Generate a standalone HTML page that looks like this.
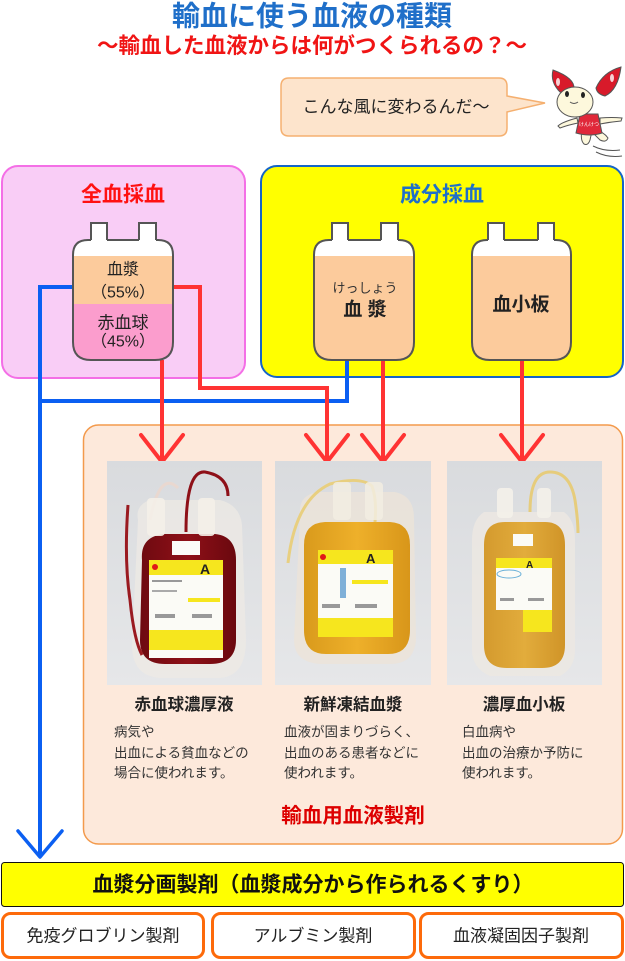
<!DOCTYPE html>
<html><head><meta charset="utf-8">
<style>
html,body{margin:0;padding:0;background:#fff;}
svg{display:block;}
text{font-family:"Liberation Sans","Noto Sans CJK JP",sans-serif;}
</style></head>
<body>
<svg width="625" height="961" viewBox="0 0 625 961" xmlns="http://www.w3.org/2000/svg">
<defs>
  <linearGradient id="pg" x1="0" y1="0" x2="0" y2="1">
    <stop offset="0" stop-color="#d9dbde"/><stop offset="1" stop-color="#e6e7e9"/>
  </linearGradient>
  <linearGradient id="rb" x1="0" y1="0" x2="1" y2="0">
    <stop offset="0" stop-color="#6e0a10"/><stop offset="0.5" stop-color="#8e1018"/><stop offset="1" stop-color="#6a080e"/>
  </linearGradient>
  <linearGradient id="yb" x1="0" y1="0" x2="1" y2="0">
    <stop offset="0" stop-color="#d99a1c"/><stop offset="0.5" stop-color="#eeb02a"/><stop offset="1" stop-color="#d8961a"/>
  </linearGradient>
  <linearGradient id="ab" x1="0" y1="0" x2="1" y2="0">
    <stop offset="0" stop-color="#d49a2e"/><stop offset="0.5" stop-color="#e2ac3c"/><stop offset="1" stop-color="#d09428"/>
  </linearGradient>
  <clipPath id="c1"><path d="M73,255 Q73,240 88,240 H158 Q173,240 173,255 V342 Q173,360 155,360 H91 Q73,360 73,342 Z"/></clipPath>
  <clipPath id="c2"><path d="M314,255 Q314,240 329,240 H399 Q414,240 414,255 V342 Q414,360 396,360 H332 Q314,360 314,342 Z"/></clipPath>
  <clipPath id="c3"><path d="M472,255 Q472,240 487,240 H556 Q571,240 571,255 V342 Q571,360 553,360 H490 Q472,360 472,342 Z"/></clipPath>
</defs>

<!-- Title -->
<text x="312" y="16" text-anchor="middle" dominant-baseline="central" font-size="28" font-weight="bold" fill="#1f6fc9">輸血に使う血液の種類</text>
<text x="312" y="46" text-anchor="middle" dominant-baseline="central" font-size="21.5" font-weight="bold" fill="#f01414">～輸血した血液からは何がつくられるの？～</text>

<!-- Speech bubble -->
<path d="M289,78 H499 Q507,78 507,86 V96 L545,103 L507,112 V128 Q507,136 499,136 H289 Q281,136 281,128 V86 Q281,78 289,78 Z" fill="#fde4cc" stroke="#f5b070" stroke-width="1.5"/>
<text x="396" y="107" text-anchor="middle" dominant-baseline="central" font-size="17" fill="#222">こんな風に変わるんだ～</text>

<!-- Mascot -->
<g>
  <path d="M593,146 Q605,152 620,150" stroke="#555" stroke-width="1" fill="none"/>
  <path d="M596,152 Q608,158 622,156" stroke="#555" stroke-width="1" fill="none"/>
  <path d="M577,118 Q562,122 558,126 L560,128 Q568,125 578,123 Z" fill="#fdf8dc" stroke="#555" stroke-width="1"/>
  <path d="M600,118 Q612,117 622,118 L621,121 Q610,122 600,124 Z" fill="#fdf8dc" stroke="#555" stroke-width="1"/>
  <path d="M582,130 Q580,140 584,144 Q588,146 590,140 L592,131 Z" fill="#fdf8dc" stroke="#555" stroke-width="1"/>
  <path d="M595,130 Q604,132 608,138 Q606,143 600,140 L594,134 Z" fill="#fdf8dc" stroke="#555" stroke-width="1"/>
  <path d="M580,114 H598 L602,133 Q590,137 576,133 Z" fill="#e0283a" stroke="#555" stroke-width="1"/>
  <text x="589" y="126" text-anchor="middle" font-size="5" fill="#fff">けんけつ</text>
  <path d="M553,70 Q575,78 574,89 Q566,94 560,92 Q550,82 553,70 Z" fill="#d81a2a" stroke="#555" stroke-width="1"/>
  <path d="M621,67 Q618,90 605,96 Q597,94 596,88 Q603,72 621,67 Z" fill="#d81a2a" stroke="#555" stroke-width="1"/>
  <ellipse cx="575" cy="102" rx="18" ry="15" fill="#fdf8dc" stroke="#555" stroke-width="1"/>
  <ellipse cx="567" cy="94" rx="2" ry="3" fill="#222"/>
  <ellipse cx="583" cy="95" rx="2" ry="3" fill="#222"/>
  <path d="M570,102 Q574,105 578,102" stroke="#555" stroke-width="1" fill="none"/>
  <ellipse cx="558" cy="82" rx="2" ry="4" fill="#fff" opacity="0.8"/>
  <ellipse cx="612" cy="78" rx="2" ry="4" fill="#fff" opacity="0.8"/>
</g>

<!-- Whole blood box -->
<rect x="2" y="166" width="243" height="212" rx="16" fill="#f9cdf6" stroke="#f46fe6" stroke-width="2"/>
<text x="123" y="195" text-anchor="middle" dominant-baseline="central" font-size="21" font-weight="bold" fill="#ff1111">全血採血</text>

<!-- Component box -->
<rect x="261" y="166" width="362" height="211" rx="16" fill="#ffff00" stroke="#1565c8" stroke-width="2"/>
<text x="442" y="195" text-anchor="middle" dominant-baseline="central" font-size="21" font-weight="bold" fill="#1f6fc9">成分採血</text>

<!-- Connector lines (drawn before bags) -->
<g fill="none" stroke-width="4" stroke-linejoin="miter">
  <path d="M73,287 H40 V856" stroke="#0b5ff2"/>
  <path d="M40,401 H347 V360" stroke="#0b5ff2"/>
  <path d="M173,287 H200 V388 H327 V462" stroke="#ff3333"/>
  <path d="M162,360 V462" stroke="#ff3333"/>
  <path d="M383,360 V462" stroke="#ff3333"/>
  <path d="M522,360 V462" stroke="#ff3333"/>
</g>

<!-- Bag 1 -->
<g>
  <path d="M91,241 V223 H107 V241 M139,241 V223 H156 V241" fill="#fff" stroke="#555" stroke-width="2"/>
  <rect x="92" y="224" width="14" height="18" fill="#fff"/>
  <rect x="140" y="224" width="15" height="18" fill="#fff"/>
  <g clip-path="url(#c1)">
    <rect x="70" y="238" width="110" height="18" fill="#fff"/>
    <rect x="70" y="256" width="110" height="48" fill="#fccb9c"/>
    <rect x="70" y="304" width="110" height="60" fill="#fb9dcd"/>
  </g>
  <path d="M107,240 H139 M156,240 H158 Q173,240 173,255 V342 Q173,360 155,360 H91 Q73,360 73,342 V255 Q73,240 88,240 H91" fill="none" stroke="#555" stroke-width="2"/>
  <text x="123" y="270" text-anchor="middle" dominant-baseline="central" font-size="16" fill="#222">血漿</text>
  <text x="123" y="293" text-anchor="middle" dominant-baseline="central" font-size="16" fill="#222">（55%）</text>
  <text x="123" y="323" text-anchor="middle" dominant-baseline="central" font-size="17" fill="#222">赤血球</text>
  <text x="123" y="342" text-anchor="middle" dominant-baseline="central" font-size="16" fill="#222">（45%）</text>
</g>

<!-- Bag 2 -->
<g>
  <path d="M332,241 V223 H348 V241 M381,241 V223 H398 V241" fill="#fff" stroke="#555" stroke-width="2"/>
  <rect x="333" y="224" width="14" height="18" fill="#fff"/>
  <rect x="382" y="224" width="15" height="18" fill="#fff"/>
  <g clip-path="url(#c2)">
    <rect x="310" y="238" width="110" height="18" fill="#fff"/>
    <rect x="310" y="256" width="110" height="110" fill="#fccb9c"/>
  </g>
  <path d="M348,240 H381 M398,240 H399 Q414,240 414,255 V342 Q414,360 396,360 H332 Q314,360 314,342 V255 Q314,240 329,240 H332" fill="none" stroke="#555" stroke-width="2"/>
  <text x="365" y="288" text-anchor="middle" dominant-baseline="central" font-size="13" fill="#333">けっしょう</text>
  <text x="365" y="310" text-anchor="middle" dominant-baseline="central" font-size="19" font-weight="bold" fill="#222">血 漿</text>
</g>

<!-- Bag 3 -->
<g>
  <path d="M488,241 V223 H504 V241 M538,241 V223 H554 V241" fill="#fff" stroke="#555" stroke-width="2"/>
  <rect x="489" y="224" width="14" height="18" fill="#fff"/>
  <rect x="539" y="224" width="14" height="18" fill="#fff"/>
  <g clip-path="url(#c3)">
    <rect x="468" y="238" width="110" height="18" fill="#fff"/>
    <rect x="468" y="256" width="110" height="110" fill="#fccb9c"/>
  </g>
  <path d="M504,240 H538 M554,240 H556 Q571,240 571,255 V342 Q571,360 553,360 H490 Q472,360 472,342 V255 Q472,240 487,240 H488" fill="none" stroke="#555" stroke-width="2"/>
  <text x="521" y="305" text-anchor="middle" dominant-baseline="central" font-size="19" font-weight="bold" fill="#222">血小板</text>
</g>

<!-- Orange product box -->
<rect x="83.5" y="425" width="539" height="419" rx="15" fill="#fde9db" stroke="#f39a4c" stroke-width="1.5"/>

<!-- red lines over box top -->
<g fill="none" stroke="#ff3333" stroke-width="4">
  <path d="M162,420 V462 M327,420 V462 M383,420 V462 M522,420 V462"/>
  <path d="M141,435 L162,462 L183,435 M306,435 L327,462 L348,435 M362,435 L383,462 L404,435 M501,435 L522,462 L543,435" stroke-linecap="round" stroke-linejoin="round"/>
</g>

<!-- Photo 1 -->
<g>
  <rect x="107" y="461" width="155" height="224" fill="url(#pg)"/>
  <path d="M138,520 Q135,505 150,500 H220 Q240,505 242,525 L246,640 Q246,676 220,678 H160 Q132,676 132,645 Z" fill="#eee9e4" opacity="0.75"/>
  <path d="M142,560 Q140,536 165,534 H215 Q236,536 236,560 V640 Q236,664 210,664 H165 Q140,664 140,640 Z" fill="url(#rb)"/>
  <path d="M186,532 Q186,470 205,472 Q228,476 228,496" fill="none" stroke="#8e1018" stroke-width="3"/>
  <path d="M128,505 Q124,560 130,600 Q134,640 142,655" fill="none" stroke="#9a1a20" stroke-width="3"/>
  <path d="M150,520 Q160,470 178,488" fill="none" stroke="#e9d8d0" stroke-width="3"/>
  <rect x="147" y="498" width="18" height="38" rx="4" fill="#f4efe8" opacity="0.9"/>
  <rect x="198" y="498" width="17" height="38" rx="4" fill="#f4efe8" opacity="0.9"/>
  <rect x="172" y="541" width="28" height="14" fill="#fbfbf8"/>
  <rect x="149" y="560" width="74" height="98" fill="#fbfbf6"/>
  <rect x="149" y="560" width="74" height="15" fill="#f6e61e"/>
  <rect x="149" y="630" width="74" height="20" fill="#f6e61e"/>
  <text x="200" y="574" font-size="14" font-weight="bold" fill="#222">A</text>
  <circle cx="155" cy="567" r="3" fill="#e01818"/>
  <rect x="152" y="580" width="30" height="2" fill="#999"/>
  <rect x="152" y="590" width="25" height="2" fill="#aaa"/>
  <rect x="188" y="598" width="32" height="4" fill="#f6e61e"/>
  <rect x="155" y="614" width="20" height="4" fill="#999"/>
  <rect x="192" y="614" width="20" height="4" fill="#999"/>
</g>

<!-- Photo 2 -->
<g>
  <rect x="275" y="461" width="156" height="224" fill="url(#pg)"/>
  <path d="M300,515 Q298,495 318,492 H395 Q414,496 414,518 L416,640 Q414,664 390,664 H320 Q294,662 294,640 Z" fill="#ece4d8" opacity="0.8"/>
  <path d="M304,545 Q304,523 325,522 H390 Q410,523 410,545 V630 Q410,654 388,654 H326 Q304,654 304,630 Z" fill="url(#yb)"/>
  <path d="M288,563 Q295,500 330,484 Q360,476 372,486 Q377,500 375,522" fill="none" stroke="#e8cf80" stroke-width="3"/>
  <rect x="333" y="482" width="18" height="38" rx="4" fill="#f2ede2" opacity="0.85"/>
  <rect x="365" y="482" width="18" height="38" rx="4" fill="#f2ede2" opacity="0.85"/>
  <rect x="318" y="550" width="75" height="87" fill="#fbfbf6"/>
  <rect x="318" y="550" width="75" height="14" fill="#f6e61e"/>
  <rect x="318" y="618" width="75" height="19" fill="#f6e61e"/>
  <text x="366" y="563" font-size="13" font-weight="bold" fill="#222">A</text>
  <circle cx="323" cy="557" r="3" fill="#e01818"/>
  <rect x="340" y="568" width="6" height="30" fill="#7fb0d8"/>
  <rect x="352" y="580" width="36" height="4" fill="#f6e61e"/>
  <rect x="322" y="604" width="18" height="4" fill="#999"/>
  <rect x="355" y="604" width="22" height="4" fill="#999"/>
</g>

<!-- Photo 3 -->
<g>
  <rect x="447" y="461" width="155" height="224" fill="url(#pg)"/>
  <path d="M484,512 H564 Q575,520 575,540 V650 Q575,668 560,676 H490 Q472,668 472,650 V540 Q472,520 484,512 Z" fill="#ece8e2" opacity="0.85"/>
  <path d="M484,545 Q484,522 505,522 H545 Q565,522 565,545 V645 Q565,668 542,668 H507 Q484,668 484,645 Z" fill="url(#ab)"/>
  <path d="M530,512 Q530,472 550,472 Q570,472 575,500 Q578,520 578,533" fill="none" stroke="#e6cc7c" stroke-width="3"/>
  <rect x="497" y="488" width="16" height="30" rx="4" fill="#f4f1ea" opacity="0.9"/>
  <rect x="537" y="488" width="14" height="30" rx="4" fill="#f4f1ea" opacity="0.9"/>
  <rect x="513" y="534" width="20" height="12" fill="#fbfbf6"/>
  <rect x="496" y="558" width="56" height="52" fill="#fbfbf6"/>
  <rect x="523" y="610" width="29" height="22" fill="#f6e61e"/>
  <rect x="496" y="558" width="56" height="10" fill="#f6e61e"/>
  <text x="526" y="568" font-size="10" font-weight="bold" fill="#222">A</text>
  <ellipse cx="509" cy="574" rx="12" ry="4" fill="none" stroke="#6ab0d8" stroke-width="1"/>
  <rect x="500" y="598" width="14" height="3" fill="#999"/>
  <rect x="528" y="598" width="16" height="3" fill="#999"/>
</g>

<!-- Product titles -->
<text x="184" y="705" text-anchor="middle" dominant-baseline="central" font-size="16.5" font-weight="bold" fill="#222">赤血球濃厚液</text>
<text x="353" y="705" text-anchor="middle" dominant-baseline="central" font-size="16.5" font-weight="bold" fill="#222">新鮮凍結血漿</text>
<text x="524" y="705" text-anchor="middle" dominant-baseline="central" font-size="16.5" font-weight="bold" fill="#222">濃厚血小板</text>

<g font-size="13.5" fill="#333">
  <text x="114" y="732" dominant-baseline="central">病気や</text>
  <text x="114" y="753" dominant-baseline="central">出血による貧血などの</text>
  <text x="114" y="773" dominant-baseline="central">場合に使われます。</text>
  <text x="284" y="732" dominant-baseline="central">血液が固まりづらく、</text>
  <text x="284" y="753" dominant-baseline="central">出血のある患者などに</text>
  <text x="284" y="773" dominant-baseline="central">使われます。</text>
  <text x="462" y="732" dominant-baseline="central">白血病や</text>
  <text x="462" y="753" dominant-baseline="central">出血の治療か予防に</text>
  <text x="462" y="773" dominant-baseline="central">使われます。</text>
</g>

<text x="353" y="816" text-anchor="middle" dominant-baseline="central" font-size="20.5" font-weight="bold" fill="#dd0000">輸血用血液製剤</text>

<!-- Blue arrow head -->
<path d="M18,831 L40,857 L62,831" fill="none" stroke="#0b5ff2" stroke-width="3.5" stroke-linecap="round" stroke-linejoin="round"/>

<!-- Plasma fraction bar -->
<rect x="1.5" y="862.5" width="622" height="44" rx="3" fill="#ffff00" stroke="#111" stroke-width="1"/>
<text x="313" y="885" text-anchor="middle" dominant-baseline="central" font-size="21" font-weight="bold" fill="#111">血漿分画製剤（血漿成分から作られるくすり）</text>

<!-- Bottom boxes -->
<rect x="2.5" y="913.5" width="201" height="44" rx="8" fill="#fff" stroke="#fd6a0a" stroke-width="3"/>
<rect x="212.5" y="913.5" width="202" height="44" rx="8" fill="#fff" stroke="#fd6a0a" stroke-width="3"/>
<rect x="420.5" y="913.5" width="202" height="44" rx="8" fill="#fff" stroke="#fd6a0a" stroke-width="3"/>
<text x="103" y="936" text-anchor="middle" dominant-baseline="central" font-size="17" fill="#222">免疫グロブリン製剤</text>
<text x="313" y="936" text-anchor="middle" dominant-baseline="central" font-size="17" fill="#222">アルブミン製剤</text>
<text x="521" y="936" text-anchor="middle" dominant-baseline="central" font-size="17" fill="#222">血液凝固因子製剤</text>
</svg>
</body></html>
